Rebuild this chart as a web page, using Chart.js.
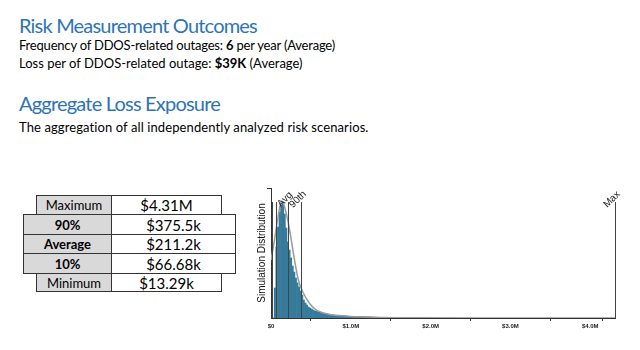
<!DOCTYPE html>
<html>
<head>
<meta charset="utf-8">
<script src="https://cdn.jsdelivr.net/npm/chart.js@4"></script>
<style>
  html, body { margin: 0; padding: 0; background: #fff; }
  body { width: 640px; height: 350px; position: relative; overflow: hidden; font-family: Lato, "Open Sans", sans-serif; }
  .txt { position: absolute; left: 19px; white-space: nowrap; line-height: 1; color: #000; }
  .head { color: #2e74b5; font-size: 20px; font-weight: 400; letter-spacing: -0.8px; }
  .body { font-size: 13px; }
  .cell { position: absolute; box-sizing: border-box; border: 1px solid #333; display: flex; align-items: center; justify-content: center; }
  .lab { background: #d9d9d9; font-size: 13px; }
  .val { background: #fff; font-size: 15px; }
  #chartBox { position: absolute; left: 250px; top: 180px; width: 390px; height: 160px; }
</style>
</head>
<body>
<div class="txt head" style="top:15px">Risk Measurement Outcomes</div>
<div class="txt body" style="top:39px;letter-spacing:-0.2px">Frequency of DDOS-related outages: <b>6</b> per year (Average)</div>
<div class="txt body" style="top:57px">Loss per of DDOS-related outage: <b>$39K</b> (Average)</div>
<div class="txt head" style="top:93px">Aggregate Loss Exposure</div>
<div class="txt body" style="top:121px;letter-spacing:0.1px">The aggregation of all independently analyzed risk scenarios.</div>

<div id="statsTable"></div>
<div id="chartBox"><canvas id="lossChart" width="390" height="160"></canvas></div>

<script>
// Summary statistics (values in $k)
const statNames = ['Maximum', '90%', 'Average', '10%', 'Minimum'];
const statText = ['$4.31M', '$375.5k', '$211.2k', '$66.68k', '$13.29k'];
const statValuesK = [4310, 375.5, 211.2, 66.68, 13.29];
const statBold = [false, true, true, true, false];

// Histogram of simulated aggregate loss, 20k bins starting at $0
const binWidthK = 20;
const binCounts = [
    0, 0, 30, 71, 91, 106, 113, 116, 104, 90,
    76, 68, 60, 52, 46, 40, 35, 31, 27, 23,
    18, 15, 13, 11, 10, 9, 8, 7, 7, 6,
    6, 5, 5, 4, 4, 4, 3.5, 3, 3, 3,
    2.5, 2.5, 2.5, 2, 2, 2, 2, 2, 1.5, 1.5,
    1.5, 1.5, 1.5, 1.2, 1.2, 1.2, 1, 1, 1, 1,
    1, 1, 1, 0.8, 0.8, 0.7, 0.6, 0.5, 0.5, 0.4,
    0.4, 0.3, 0.3, 0.2, 0.2
];

// Fitted density curve (x in $k, same height units as the histogram)
const curveX = [0, 40, 80, 110, 134, 170, 217, 250, 280, 343, 405, 489, 552, 636, 719, 844, 1000, 1117, 1368, 1870, 2870, 4310];
const curveY = [58, 76, 97, 111, 117, 111, 95, 80, 65, 38, 25, 14, 9, 5.5, 3.8, 2.4, 1.6, 1.2, 0.6, 0.2, 0.05, 0];

// Marker lines and their labels
const markerValuesK = [13.29, 66.68, 211.2, 375.5, 4310];
const markerLabels = ['', '', 'Avg', '90th', 'Max'];
const markerTop = 116;

// Axis ticks ($k)
const xTicksK = [0, 1000, 2000, 3000, 4000, 4310];
const xTickLabels = ['$0', '$1.0M', '$2.0M', '$3.0M', '$4.0M', ''];

// Build the table on the left
const rowLayout = [
    { top: 195, h: 20, l: 36, mid: 111, r: 222 },
    { top: 214, h: 21, l: 23, mid: 111, r: 236 },
    { top: 234, h: 20, l: 23, mid: 111, r: 236 },
    { top: 253, h: 21, l: 23, mid: 111, r: 236 },
    { top: 273, h: 19, l: 36, mid: 111, r: 222 }
];
const tableDiv = document.getElementById('statsTable');
statNames.forEach((name, i) => {
    const g = rowLayout[i];
    const lab = document.createElement('div');
    lab.className = 'cell lab';
    lab.style.cssText = `left:${g.l}px;top:${g.top}px;width:${g.mid - g.l + 1}px;height:${g.h}px;font-weight:${statBold[i] ? 'bold' : 'normal'}`;
    lab.textContent = name;
    const val = document.createElement('div');
    val.className = 'cell val';
    val.style.cssText = `left:${g.mid}px;top:${g.top}px;width:${g.r - g.mid}px;height:${g.h}px`;
    val.textContent = statText[i];
    tableDiv.appendChild(lab);
    tableDiv.appendChild(val);
});

// Draw vertical marker lines with rotated labels
const markerPlugin = {
    id: 'markers',
    afterDatasetsDraw(chart) {
        const ctx = chart.ctx;
        const xs = chart.scales.x;
        const ys = chart.scales.y;
        const yTop = ys.getPixelForValue(markerTop);
        ctx.save();
        ctx.strokeStyle = '#444';
        ctx.lineWidth = 1;
        markerValuesK.forEach((v, i) => {
            const x = Math.round(xs.getPixelForValue(v)) + 0.5;
            ctx.beginPath();
            ctx.moveTo(x, yTop);
            ctx.lineTo(x, ys.bottom);
            ctx.stroke();
            if (markerLabels[i]) {
                ctx.save();
                ctx.translate(x, yTop + 1);
                ctx.rotate(-Math.PI / 4);
                ctx.fillStyle = '#222';
                ctx.font = '10px "Liberation Sans", Arial, sans-serif';
                ctx.textAlign = 'center';
                ctx.textBaseline = 'bottom';
                ctx.fillText(markerLabels[i], 0, 0);
                ctx.restore();
            }
        });
        ctx.restore();
    }
};

const barData = binCounts.map((c, i) => ({ x: i * binWidthK + binWidthK / 2, y: c }));
const curveData = curveX.map((x, i) => ({ x: x, y: curveY[i] }));

new Chart(document.getElementById('lossChart'), {
    type: 'bar',
    data: {
        datasets: [
            {
                type: 'line',
                data: curveData,
                borderColor: '#9a9a9a',
                borderWidth: 1.5,
                pointRadius: 0,
                cubicInterpolationMode: 'monotone',
                order: 0
            },
            {
                type: 'bar',
                data: barData,
                backgroundColor: '#377b9b',
                borderWidth: 0,
                barPercentage: 1,
                categoryPercentage: 1,
                order: 1
            }
        ]
    },
    options: {
        responsive: false,
        animation: false,
        devicePixelRatio: 1,
        layout: { padding: { left: 0, right: 25, top: 8, bottom: 0 } },
        plugins: { legend: { display: false }, tooltip: { enabled: false } },
        scales: {
            x: {
                type: 'linear',
                min: 0,
                max: 4310,
                offset: false,
                afterBuildTicks: scale => { scale.ticks = xTicksK.map(v => ({ value: v })); },
                afterFit: scale => { scale.height = 22; },
                ticks: {
                    autoSkip: false,
                    maxRotation: 0,
                    padding: 2,
                    color: '#222',
                    font: { size: 6, weight: 'bold', family: '"Liberation Sans", Arial, sans-serif' },
                    callback: (v, i) => xTickLabels[i]
                },
                grid: { drawOnChartArea: false, drawTicks: true, tickLength: 3, color: '#333' },
                border: { display: true, color: '#333' }
            },
            y: {
                min: 0,
                max: 130,
                afterBuildTicks: scale => { scale.ticks = [{ value: 130 }]; },
                afterFit: scale => { scale.width = 21; },
                ticks: { display: false },
                grid: { drawOnChartArea: false, drawTicks: true, tickLength: 4, color: '#333' },
                border: { display: true, color: '#333' },
                title: {
                    display: true,
                    text: 'Simulation Distribution',
                    color: '#111',
                    padding: { top: 6, bottom: 0 },
                    font: { size: 10, family: '"Liberation Sans", Arial, sans-serif' }
                }
            }
        }
    },
    plugins: [markerPlugin]
});
</script>
</body>
</html>
